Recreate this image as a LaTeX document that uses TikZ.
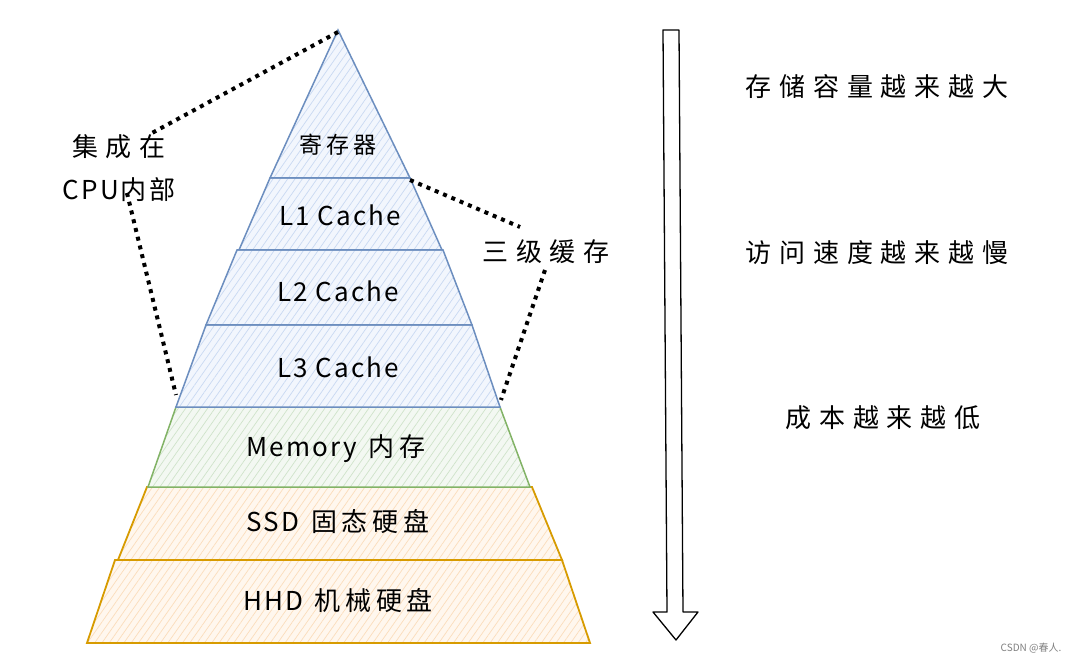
\documentclass[tikz,border=0pt]{standalone}
\usepackage{fontspec}
\setmainfont{Noto Sans CJK SC}
\newfontfamily\handfont[LetterSpace=8]{Noto Sans CJK SC}
\newfontfamily\midfont[LetterSpace=18]{Noto Sans CJK SC}
\newfontfamily\widefont[LetterSpace=30]{Noto Sans CJK SC}
\usetikzlibrary{patterns.meta}
\definecolor{bluestroke}{HTML}{6C8EBF}
\definecolor{bluefill}{HTML}{F2F6FD}
\definecolor{bluehatch}{HTML}{C9D9F2}
\definecolor{greenstroke}{HTML}{82B366}
\definecolor{greenfill}{HTML}{F3F8F2}
\definecolor{greenhatch}{HTML}{CFE3CA}
\definecolor{orangestroke}{HTML}{D79B00}
\definecolor{orangefill}{HTML}{FFF7EE}
\definecolor{orangehatch}{HTML}{FBDDBB}
\tikzset{
  layerblue/.style={draw=bluestroke, line width=1.5pt, preaction={fill=bluefill},
    pattern={Lines[angle=55,distance=6pt,line width=0.7pt]}, pattern color=bluehatch},
  layergreen/.style={draw=greenstroke, line width=1.5pt, preaction={fill=greenfill},
    pattern={Lines[angle=55,distance=6pt,line width=0.7pt]}, pattern color=greenhatch},
  layerorange/.style={draw=orangestroke, line width=1.8pt, preaction={fill=orangefill},
    pattern={Lines[angle=55,distance=6pt,line width=0.7pt]}, pattern color=orangehatch},
  lbl/.style={font=\handfont\fontsize{26}{30}\selectfont, inner sep=0pt},
  small/.style={font=\midfont\fontsize{23}{26}\selectfont, inner sep=0pt},
  side/.style={font=\widefont\fontsize{26}{30}\selectfont, inner sep=0pt},
  dots/.style={line width=4pt, dash pattern=on 4pt off 5pt},
}
\begin{document}
\begin{tikzpicture}[x=1pt,y=-1pt]
\useasboundingbox[fill=white] (0,0) rectangle (1088,663);
% layers
\draw[layerorange] (115,560) -- (562,560) -- (590,643) -- (87,643) -- cycle;
\draw[layerorange] (147,487) -- (532,487) -- (562,560) -- (118,560) -- cycle;
\draw[layergreen] (176,407) -- (500,407) -- (530,487) -- (148,487) -- cycle;
\draw[layerblue] (206,325) -- (472,325) -- (500,407) -- (176,407) -- cycle;
\draw[layerblue] (237,250) -- (443,250) -- (472,325) -- (206,325) -- cycle;
\draw[layerblue] (270,178) -- (410,178) -- (442,250) -- (239,250) -- cycle;
\draw[layerblue] (338,30) -- (410,178) -- (270,178) -- cycle;
% coordinates
\coordinate (apex) at (338,32);
\coordinate (l1r) at (410,180);
\coordinate (l3l) at (176,395);
\coordinate (l3r) at (501,400);
\coordinate (cpuTop) at (152,133);
\coordinate (cpuBot) at (127,193);
\coordinate (l123Top) at (520,227);
\coordinate (l123Bot) at (545,270);
% labels in layers
\node[small] (reg) at (338,145) {寄存器};
\node[lbl] (l1) at (340,215) {L1 Cache};
\node[lbl] (l2) at (338,291) {L2 Cache};
\node[lbl] (l3) at (338,367) {L3 Cache};
\node[lbl] (mem) at (336,449) {Memory\hspace{12pt}{\midfont 内存}};
\node[lbl] (ssd) at (338,522) {SSD\hspace{12pt}{\midfont 固态硬盘}};
\node[lbl] (hhd) at (338,601) {HHD\hspace{12pt}{\midfont 机械硬盘}};
% side labels
\node[side] (cpu1) at (119,147) {集成在};
\node[lbl] (cpu2) at (119,190) {CPU内部};
\node[side] (l123) at (546,252) {三级缓存};
\node[side] (cap) at (877,87) {存储容量越来越大};
\node[side] (spd) at (877,253) {访问速度越来越慢};
\node[side] (cost) at (883,418) {成本越来越低};
\node[font=\fontsize{10}{12}\selectfont, text=gray, inner sep=0pt] (csdn) at (1031,648) {CSDN @春人.};
% dotted connectors
\draw[dots] (apex) -- (cpuTop);
\draw[dots] (cpuBot) -- (l3l);
\draw[dots] (l1r) -- (l123Top);
\draw[dots] (l123Bot) -- (l3r);
% big arrow
\draw[line width=1.3pt, line join=round, fill=white] (663,30) -- (679,30) -- (683,612) -- (698,612) -- (676,640) -- (653,612) -- (667,612) -- cycle;
\end{tikzpicture}
\end{document}
